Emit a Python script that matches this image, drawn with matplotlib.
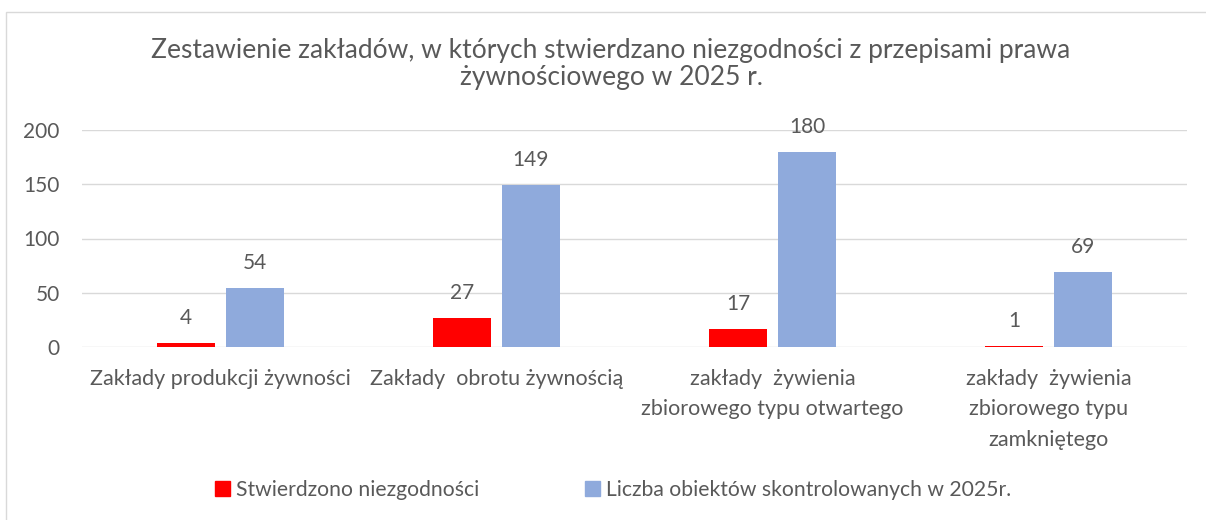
import matplotlib
matplotlib.use("Agg")
import matplotlib.pyplot as plt
import matplotlib.patches as mpatches
import numpy as np

plt.rcParams['font.family'] = ['Lato', 'DejaVu Sans']

title = "Zestawienie zakładów, w których stwierdzano niezgodności z przepisami prawa\nżywnościowego w 2025 r."
categories = [
    "Zakłady produkcji żywności",
    "Zakłady  obrotu żywnością",
    "zakłady  żywienia\nzbiorowego typu otwartego",
    "zakłady  żywienia\nzbiorowego typu\nzamkniętego",
]
series_names = ["Stwierdzono niezgodności", "Liczba obiektów skontrolowanych w 2025r."]
niezgodnosci = [4, 27, 17, 1]
skontrolowane = [54, 149, 180, 69]
yticks = [0, 50, 100, 150, 200]

TXT = '#595959'
GRID = '#D9D9D9'
RED = '#FF0000'
BLUE = '#8FAADC'

W, H = 1206, 520
fig = plt.figure(figsize=(W / 100, H / 100), dpi=100)
fig.patch.set_facecolor('white')

# chart border (extends beyond right/bottom edge)
fig.patches.append(mpatches.Rectangle((6 / W, -0.1), 1.2, 1 - 12 / H + 0.1,
                                      transform=fig.transFigure, fill=False,
                                      edgecolor=GRID, linewidth=1.0))

ax = fig.add_axes([82 / W, 1 - 347 / H, (1187 - 82) / W, (347 - 130) / H])
x = np.arange(len(categories))
bw = 0.21
off = 0.125
b1 = ax.bar(x - off, niezgodnosci, bw, color=RED, label=series_names[0], zorder=3)
b2 = ax.bar(x + off, skontrolowane, bw, color=BLUE, label=series_names[1], zorder=3)

for bars in (b1, b2):
    for r in bars:
        ax.annotate(f"{int(r.get_height())}", (r.get_x() + r.get_width() / 2, r.get_height()),
                    xytext=(0, 25), textcoords='offset pixels', ha='center', va='center',
                    fontsize=15, color=TXT)

ax.set_xlim(-0.5, len(categories) - 0.5)
ax.set_ylim(0, 200)
ax.set_yticks(yticks)
ax.set_yticklabels([str(v) for v in yticks])
ax.set_xticks(x)
ax.set_xticklabels(categories, linespacing=1.68)
ax.tick_params(axis='y', length=0, pad=16, labelsize=15, labelcolor=TXT)
ax.tick_params(axis='x', length=0, pad=15.5, labelsize=15.5, labelcolor=TXT)
for s in ax.spines.values():
    s.set_visible(False)
ax.grid(axis='y', color=GRID, linewidth=1.0, zorder=0)
ax.set_axisbelow(True)

fig.text(611 / W, 1 - 64 / H, title, ha='center', va='center', fontsize=19,
         color=TXT, linespacing=1.1)

handles = [mpatches.Patch(color=RED), mpatches.Patch(color=BLUE)]
fig.legend(handles, series_names, loc='center', bbox_to_anchor=(613 / W, 1 - 490 / H),
           ncol=2, frameon=False, fontsize=15.2, labelcolor=TXT,
           handlelength=0.7, handleheight=0.7, handletextpad=0.3, columnspacing=5.0)

fig.savefig('out.png', dpi=100)
